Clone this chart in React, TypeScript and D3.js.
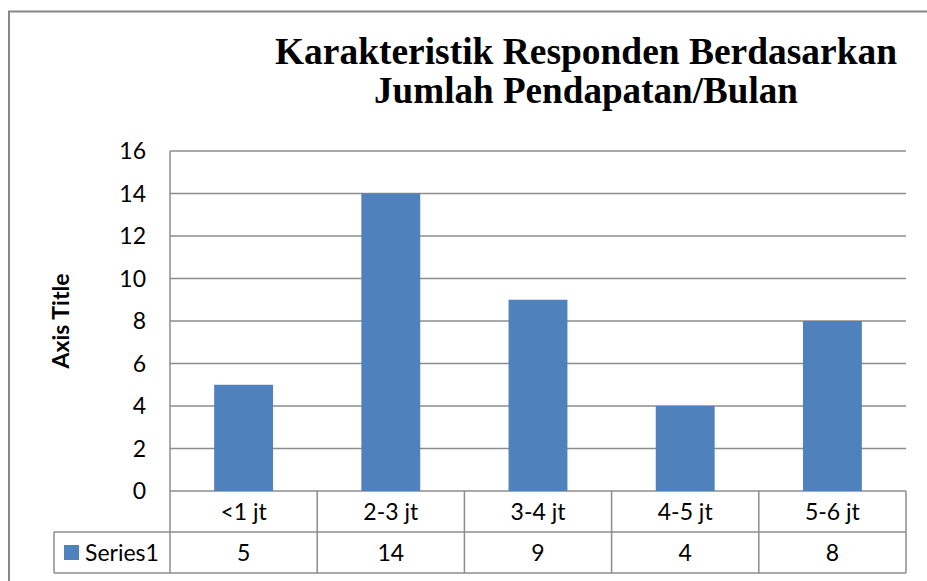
import React, { useEffect, useRef } from 'react';
import * as d3 from 'd3';

const categories = ['<1 jt', '2-3 jt', '3-4 jt', '4-5 jt', '5-6 jt'];
const series1 = [5, 14, 9, 4, 8];
const yTicks = [0, 2, 4, 6, 8, 10, 12, 14, 16];
const seriesName = 'Series1';
const titleLines = ['Karakteristik Responden Berdasarkan', 'Jumlah Pendapatan/Bulan'];
const axisTitle = 'Axis Title';

const App: React.FC = () => {
  const svgRef = useRef<SVGSVGElement>(null);

  useEffect(() => {
    if (!svgRef.current) return;
    const width = 927;
    const height = 581;
    const plot = { left: 170, right: 906, top: 151, bottom: 491 };
    const rowH = 41;
    const labelFont = 'Lato, "Open Sans", sans-serif';
    const labelSize = 23;
    const gridColor = '#8c8c8c';

    const svg = d3.select(svgRef.current);
    svg.selectAll('*').remove();
    svg.attr('width', width).attr('height', height);

    // outer chart frame (runs off the right/bottom edge)
    svg.append('rect')
      .attr('x', 9).attr('y', 11.5)
      .attr('width', 960).attr('height', 620)
      .attr('fill', '#fff')
      .attr('stroke', '#878787').attr('stroke-width', 2);

    const x = d3.scaleBand<string>()
      .domain(categories)
      .range([plot.left, plot.right])
      .paddingInner(0.6)
      .paddingOuter(0.3);

    const cell = d3.scaleBand<string>()
      .domain(categories)
      .range([plot.left, plot.right]);

    const y = d3.scaleLinear()
      .domain([0, 16])
      .range([plot.bottom, plot.top]);

    // title: tall, slightly condensed serif
    const titleWidths = [622, 424];
    svg.append('g')
      .selectAll('text')
      .data(titleLines)
      .join('text')
      .attr('x', 586)
      .attr('y', (_, i) => 64 + i * 39)
      .attr('text-anchor', 'middle')
      .attr('font-family', '"Liberation Serif", "Times New Roman", serif')
      .attr('font-weight', 'bold')
      .attr('font-size', 37)
      .attr('fill', '#000')
      .attr('textLength', (_, i) => titleWidths[i])
      .attr('lengthAdjust', 'spacingAndGlyphs')
      .text(d => d);

    // gridlines
    svg.append('g')
      .selectAll('line')
      .data(yTicks)
      .join('line')
      .attr('x1', plot.left).attr('x2', plot.right)
      .attr('y1', d => y(d)).attr('y2', d => y(d))
      .attr('stroke', gridColor).attr('stroke-width', 1.5);

    // y tick labels
    svg.append('g')
      .selectAll('text')
      .data(yTicks)
      .join('text')
      .attr('x', 146)
      .attr('y', d => y(d))
      .attr('dy', '0.35em')
      .attr('text-anchor', 'end')
      .attr('font-family', labelFont)
      .attr('font-size', labelSize)
      .attr('fill', '#000')
      .text(d => d);

    // axis title
    svg.append('text')
      .attr('transform', `translate(69,321) rotate(-90)`)
      .attr('text-anchor', 'middle')
      .attr('font-family', labelFont)
      .attr('font-weight', 'bold')
      .attr('font-size', 23)
      .attr('fill', '#000')
      .text(axisTitle);

    // bars
    svg.append('g')
      .selectAll('rect')
      .data(series1)
      .join('rect')
      .attr('x', (_, i) => x(categories[i]) ?? 0)
      .attr('width', x.bandwidth())
      .attr('y', d => y(d))
      .attr('height', d => y(0) - y(d))
      .attr('fill', '#4f81bd');

    // data table
    const table = svg.append('g').attr('stroke', gridColor).attr('stroke-width', 1.5);
    const r1 = plot.bottom + rowH;
    const r2 = r1 + rowH;
    const tableLeft = 54;
    table.append('line').attr('x1', tableLeft).attr('x2', plot.right).attr('y1', r1).attr('y2', r1);
    table.append('line').attr('x1', tableLeft).attr('x2', plot.right).attr('y1', r2).attr('y2', r2);
    table.append('line').attr('x1', tableLeft).attr('x2', tableLeft).attr('y1', r1).attr('y2', r2);
    table.append('line').attr('x1', plot.left).attr('x2', plot.left).attr('y1', plot.top).attr('y2', r2);
    table.selectAll('line.sep')
      .data(categories)
      .join('line')
      .attr('class', 'sep')
      .attr('x1', d => (cell(d) ?? 0) + cell.bandwidth())
      .attr('x2', d => (cell(d) ?? 0) + cell.bandwidth())
      .attr('y1', plot.bottom).attr('y2', r2);

    const cellText = svg.append('g')
      .attr('font-family', labelFont)
      .attr('font-size', labelSize)
      .attr('fill', '#000')
      .attr('text-anchor', 'middle');

    cellText.selectAll('text.cat')
      .data(categories)
      .join('text')
      .attr('class', 'cat')
      .attr('x', d => (cell(d) ?? 0) + cell.bandwidth() / 2)
      .attr('y', plot.bottom + rowH / 2)
      .attr('dy', '0.35em')
      .text(d => d);

    cellText.selectAll('text.val')
      .data(series1)
      .join('text')
      .attr('class', 'val')
      .attr('x', (_, i) => (cell(categories[i]) ?? 0) + cell.bandwidth() / 2)
      .attr('y', r1 + rowH / 2)
      .attr('dy', '0.35em')
      .text(d => d);

    // legend key + series name
    svg.append('rect')
      .attr('x', 64).attr('y', 545)
      .attr('width', 15).attr('height', 15)
      .attr('fill', '#4f81bd');
    svg.append('text')
      .attr('x', 85)
      .attr('y', r1 + rowH / 2)
      .attr('dy', '0.35em')
      .attr('font-family', labelFont)
      .attr('font-size', labelSize)
      .attr('fill', '#000')
      .text(seriesName);
  }, []);

  return (
    <div style={{ position: 'fixed', left: 0, top: 0, background: '#fff' }}>
      <svg ref={svgRef} style={{ display: 'block' }} />
    </div>
  );
};

export default App;
